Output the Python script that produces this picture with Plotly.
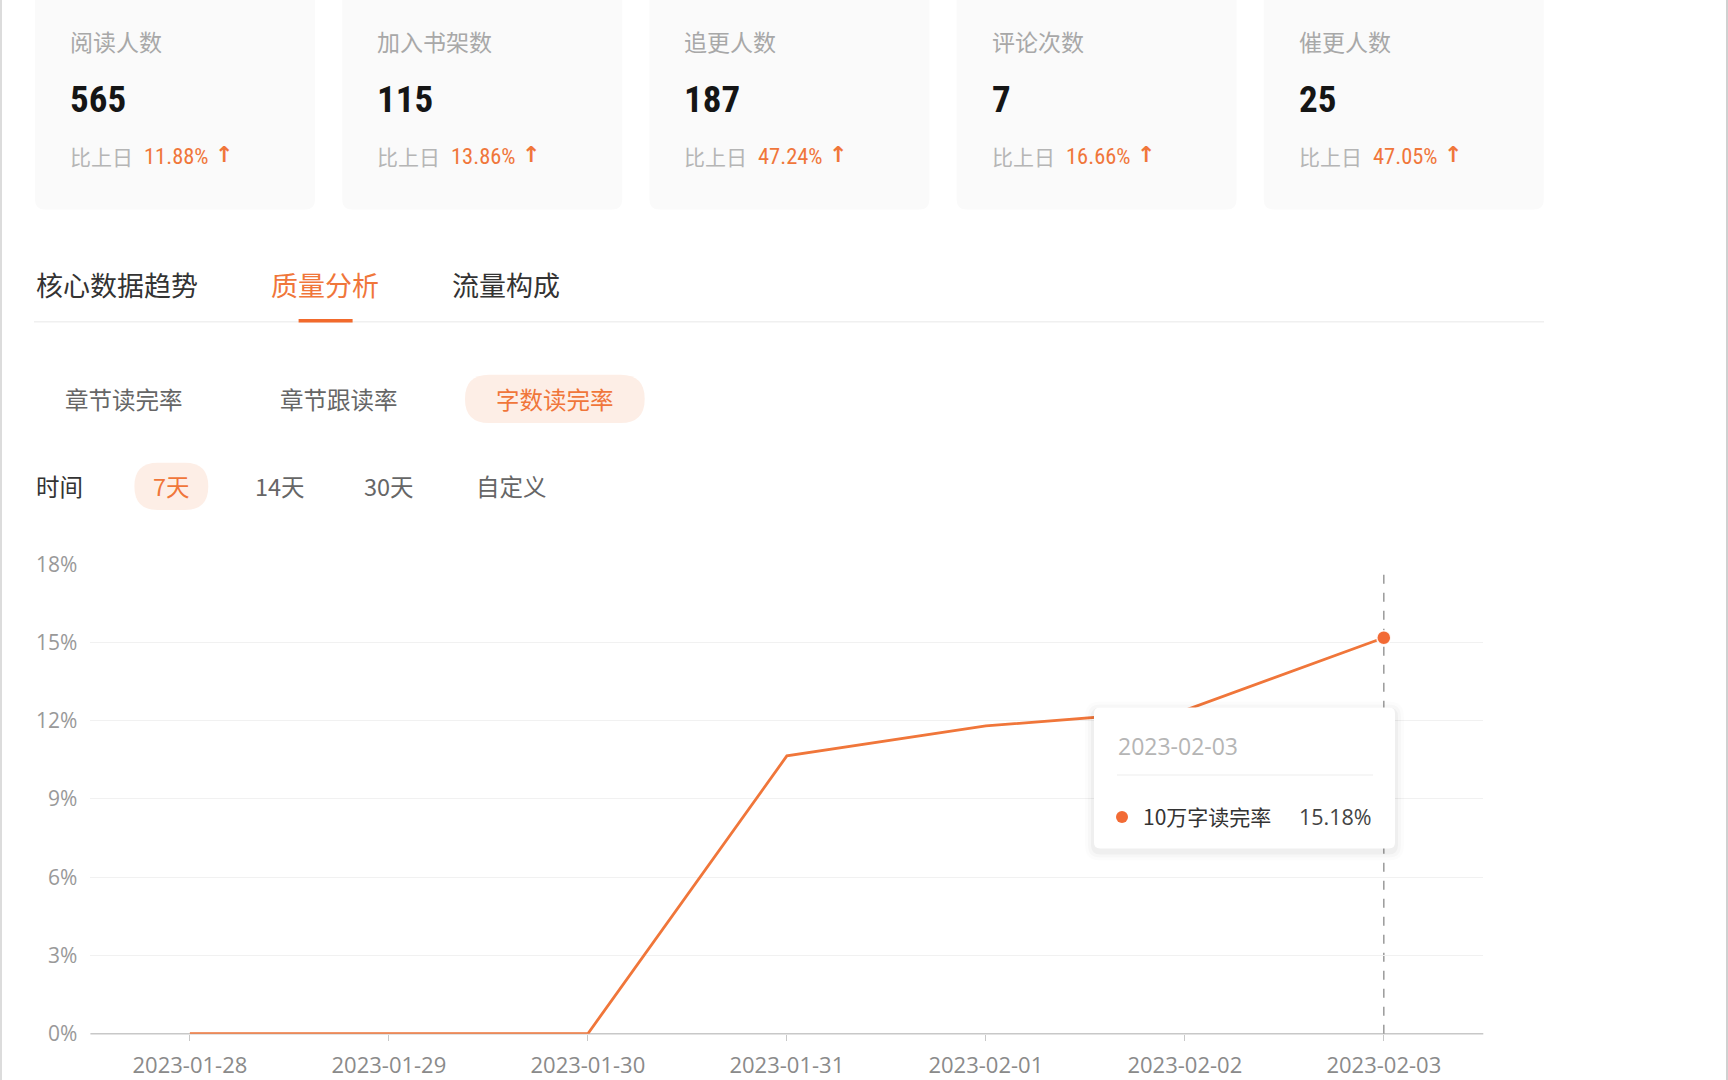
import plotly.graph_objects as go

# ---------------- data ----------------
dates = ["2023-01-28", "2023-01-29", "2023-01-30", "2023-01-31",
         "2023-02-01", "2023-02-02", "2023-02-03"]
read_rate = [0.0, 0.0, 0.0, 10.65, 11.8, 12.4, 15.18]
series_name = "10万字读完率"

y_ticks = [0, 3, 6, 9, 12, 15, 18]
y_tick_labels = ["0%", "3%", "6%", "9%", "12%", "15%", "18%"]

card_labels = ["阅读人数", "加入书架数", "追更人数", "评论次数", "催更人数"]
card_values = [565, 115, 187, 7, 25]
card_changes = [11.88, 13.86, 47.24, 16.66, 47.05]
compare_label = "比上日"

tab_labels = ["核心数据趋势", "质量分析", "流量构成"]
sub_tab_labels = ["章节读完率", "章节跟读率", "字数读完率"]
time_title = "时间"
time_options = ["7天", "14天", "30天", "自定义"]

# ---------------- layout helpers ----------------
W, H = 1728, 1080
ORANGE = "#f0763a"
CJK = "Noto Sans CJK SC"
NARROW = "Liberation Sans Narrow, Roboto Condensed, Roboto"


def px(x):
    return x / W


def py(y):
    return 1 - y / H


def rrect_path(x0, y0, x1, y1, r):
    pts = [
        ("M", [(x0 + r, y0)]),
        ("L", [(x1 - r, y0)]),
        ("Q", [(x1, y0), (x1, y0 + r)]),
        ("L", [(x1, y1 - r)]),
        ("Q", [(x1, y1), (x1 - r, y1)]),
        ("L", [(x0 + r, y1)]),
        ("Q", [(x0, y1), (x0, y1 - r)]),
        ("L", [(x0, y0 + r)]),
        ("Q", [(x0, y0), (x0 + r, y0)]),
    ]
    s = ""
    for cmd, ps in pts:
        s += cmd + " " + " ".join(f"{px(a):.6f},{py(b):.6f}" for a, b in ps) + " "
    return s + "Z"


shapes = []
annotations = []


def text(x, y, t, size, color, family=CJK, anchor="left", weight=None):
    f = dict(size=size, color=color, family=family)
    if weight:
        f["weight"] = weight
    annotations.append(dict(
        x=px(x), y=py(y), xref="paper", yref="paper", text=t,
        showarrow=False, xanchor=anchor, yanchor="middle", font=f))


# borders of the page
shapes.append(dict(type="line", xref="paper", yref="paper", x0=px(1), x1=px(1),
                   y0=0, y1=1, line=dict(color="#dcdcdc", width=2), layer="below"))
shapes.append(dict(type="line", xref="paper", yref="paper", x0=px(1727), x1=px(1727),
                   y0=0, y1=1, line=dict(color="#d0d0d0", width=2), layer="below"))

# ---------------- stat cards ----------------
card_left0, card_step, card_w = 35, 307.2, 280
for i, (lab, val, chg) in enumerate(zip(card_labels, card_values, card_changes)):
    cl = card_left0 + i * card_step
    shapes.append(dict(type="path", xref="paper", yref="paper",
                       path=rrect_path(cl, -20, cl + card_w, 209.5, 10),
                       fillcolor="#fafafa", line=dict(width=0), layer="below"))
    text(cl + 33, 41, lab, 23, "#a8a8a8")
    text(cl + 33, 99, str(val), 37, "#151515", family=NARROW, weight=700)
    text(cl + 33, 156, compare_label, 21, "#b5b5b5")
    text(cl + 107, 156, f"{chg:.2f}%", 22.5, ORANGE, family=NARROW)
    text(cl + 178, 155, "↑", 22, ORANGE, family="DejaVu Sans", weight=700)

# ---------------- tabs ----------------
tab_x = [34, 269, 449.6]
for i, (lab, x) in enumerate(zip(tab_labels, tab_x)):
    text(x, 284, lab, 27, ORANGE if i == 1 else "#333333")
shapes.append(dict(type="line", xref="paper", yref="paper", x0=px(34), x1=px(1544),
                   y0=py(321.8), y1=py(321.8), line=dict(color="#f0f0f0", width=1.5),
                   layer="below"))
shapes.append(dict(type="line", xref="paper", yref="paper", x0=px(298.6), x1=px(352.6),
                   y0=py(320.7), y1=py(320.7), line=dict(color="#f26a2c", width=3.5),
                   layer="below"))

# ---------------- sub tabs ----------------
shapes.append(dict(type="path", xref="paper", yref="paper",
                   path=rrect_path(465, 374.7, 644.7, 423, 24),
                   fillcolor="#fdeee6", line=dict(width=0), layer="below"))
sub_x = [124, 339, 555]
for i, (lab, x) in enumerate(zip(sub_tab_labels, sub_x)):
    text(x, 399, lab, 23.5, ORANGE if i == 2 else "#666666", anchor="center")

# ---------------- time selector ----------------
text(34, 486, time_title, 23.5, "#333333")
shapes.append(dict(type="path", xref="paper", yref="paper",
                   path=rrect_path(134.4, 462.8, 208.3, 510, 23.5),
                   fillcolor="#fdeee6", line=dict(width=0), layer="below"))
time_x = [171.4, 279.5, 389, 511]
for i, (lab, x) in enumerate(zip(time_options, time_x)):
    text(x, 486, lab, 23.5, ORANGE if i == 0 else "#666666", anchor="center")

# ---------------- chart ----------------
fig = go.Figure()
fig.add_trace(go.Scatter(
    x=dates, y=read_rate, mode="lines", name=series_name,
    line=dict(color=ORANGE, width=2.8), hoverinfo="skip", cliponaxis=False))
fig.add_trace(go.Scatter(
    x=[dates[-1]], y=[read_rate[-1]], mode="markers", name=series_name,
    marker=dict(color="#f26a35", size=14, line=dict(color="rgba(255,255,255,0.9)", width=1.5)),
    hoverinfo="skip", cliponaxis=False))

plot_x0, plot_x1 = 90.4, 1483.3
plot_y_top, plot_y_bot = 564.2, 1033.7

# x-axis base line (below the series line)
shapes.append(dict(type="line", xref="paper", yref="paper",
                   x0=px(plot_x0), x1=px(plot_x1), y0=py(plot_y_bot), y1=py(plot_y_bot),
                   line=dict(color="#c8c8c8", width=1.5), layer="below"))

# crosshair dashed line at the hovered date
shapes.append(dict(type="line", xref="x", yref="paper", x0=dates[-1], x1=dates[-1],
                   y0=py(plot_y_bot), y1=py(573),
                   line=dict(color="#9a9a9a", width=1.5, dash="dash"), layer="below"))

# tooltip
tx0, ty0, tx1, ty1 = 1094, 707.5, 1395, 848.5
for k, a in [(9, 0.012), (6, 0.02), (3, 0.03)]:
    shapes.append(dict(type="path", xref="paper", yref="paper",
                       path=rrect_path(tx0 - k, ty0 - k + 3, tx1 + k, ty1 + k + 3, 6 + k),
                       fillcolor=f"rgba(0,0,0,{a})", line=dict(width=0), layer="above"))
shapes.append(dict(type="path", xref="paper", yref="paper",
                   path=rrect_path(tx0, ty0, tx1, ty1, 6),
                   fillcolor="#ffffff", line=dict(width=0), layer="above"))
shapes.append(dict(type="line", xref="paper", yref="paper", x0=px(1117), x1=px(1373),
                   y0=py(775), y1=py(775), line=dict(color="#ededed", width=1.2),
                   layer="above"))
shapes.append(dict(type="circle", xref="paper", yref="paper",
                   x0=px(1116), x1=px(1128), y0=py(811), y1=py(823),
                   fillcolor="#f26b35", line=dict(width=0), layer="above"))
text(1116, 746, dates[-1], 23, "#b5b5b5", family="Open Sans")
text(1141, 816, series_name, 21, "#333333")
text(1374, 816, f"{read_rate[-1]:.2f}%", 21.5, "#444444", family="Open Sans", anchor="right")

fig.update_layout(
    width=W, height=H,
    margin=dict(l=0, r=0, t=0, b=0, pad=0),
    paper_bgcolor="#ffffff", plot_bgcolor="#ffffff",
    showlegend=False,
    shapes=shapes, annotations=annotations,
    xaxis=dict(
        domain=[px(plot_x0), px(plot_x1)],
        type="category", categoryorder="array", categoryarray=dates,
        range=[-0.5, len(dates) - 0.5],
        automargin=False, layer="below traces",
        showgrid=False, zeroline=False, showline=False,
        ticks="outside", ticklen=6, tickcolor="#c8c8c8", tickwidth=1.2,
        tickfont=dict(family="Open Sans", size=22, color="#8a8a8a"),
        ticklabelstandoff=6,
        fixedrange=True,
    ),
    yaxis=dict(
        domain=[py(plot_y_bot), py(plot_y_top)],
        range=[0, 18],
        automargin=False, layer="below traces",
        tickvals=y_ticks, ticktext=y_tick_labels,
        showgrid=True, gridcolor="#f1f1f1", gridwidth=1.2,
        zeroline=False, showline=False, ticks="",
        tickfont=dict(family="Open Sans", size=21, color="#999999"),
        ticklabelstandoff=12,
        fixedrange=True,
    ),
)

fig.write_html("out.html")
